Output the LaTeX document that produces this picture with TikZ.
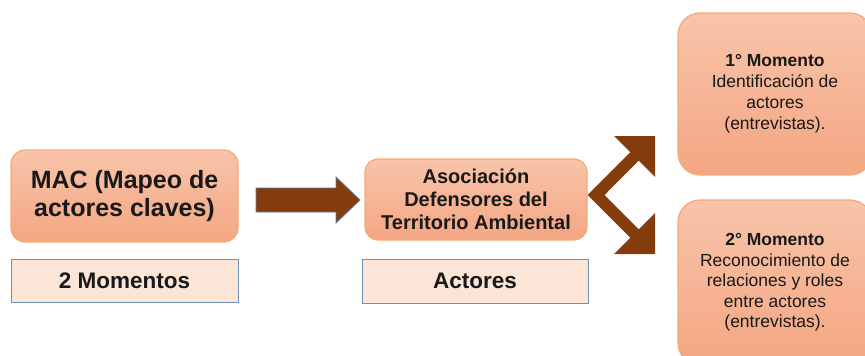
\documentclass[tikz,border=0pt]{standalone}
\usepackage{fontspec}
\setmainfont{Liberation Sans}
\definecolor{boxtop}{RGB}{248,196,170}
\definecolor{boxbot}{RGB}{244,166,130}
\definecolor{boxline}{RGB}{244,170,120}
\definecolor{labfill}{RGB}{251,229,214}
\definecolor{labline}{RGB}{110,145,185}
\definecolor{arrowbrown}{RGB}{132,60,12}
\definecolor{arrowline}{RGB}{90,125,170}
\tikzset{
  mainbox/.style={draw=boxline, line width=1.2pt, top color=boxtop, bottom color=boxbot,
    rounded corners=14pt, inner sep=0pt, align=center, text=black!90},
  labelbox/.style={draw=labline, line width=1pt, fill=labfill, inner sep=0pt, align=center,
    text=black!90, font=\fontsize{22.5}{26}\selectfont\bfseries},
  blockarrow/.style={fill=arrowbrown},
}
\begin{document}
\begin{tikzpicture}[x=1pt,y=-1pt]
\useasboundingbox (0,0) rectangle (865,356);
\clip (0,0) rectangle (865,356);
% left group
\node[mainbox, minimum width=227pt, minimum height=92pt,
  font=\fontsize{25}{28.5}\selectfont\bfseries] (mac) at (124.5,196) {MAC (Mapeo de\\actores claves)};
\node[labelbox, minimum width=227pt, minimum height=43pt] (mom2) at (124.5,280.5) {2 Momentos};
% middle group
\node[mainbox, rounded corners=13pt, minimum width=222pt, minimum height=81pt,
  font=\fontsize{20}{23}\selectfont\bfseries] (asoc) at (476,199.5) {Asociación\\Defensores del\\Territorio Ambiental};
\node[labelbox, minimum width=226pt, minimum height=44pt] (act) at (475,281) {Actores};
% right group
\node[mainbox, rounded corners=22pt, minimum width=194pt, minimum height=162pt,
  font=\fontsize{17.5}{21}\selectfont] (m1) at (775,94)
  {\textbf{1° Momento}\\Identificación de\\actores\\(entrevistas).};
\node[mainbox, rounded corners=22pt, minimum width=194pt, minimum height=165pt,
  font=\fontsize{17.5}{20.5}\selectfont] (m2) at (775,282.5)
  {\textbf{2° Momento}\\Reconocimiento de\\relaciones y roles\\entre actores\\(entrevistas).};
% main block arrow
\path[blockarrow, draw=arrowline, line width=0.8pt]
  (256,188) -- (336,188) -- (336,177) -- (360,200) -- (336,223) -- (336,212) -- (256,212) -- cycle;
% forked block arrow
\path[blockarrow]
  (587.5,195) -- (630.3,152.3) -- (614,136) -- (655,136) -- (655,177) -- (638.7,160.7)
  -- (604.5,195) -- (638.7,229.3) -- (655,213) -- (655,254) -- (614,254) -- (630.3,237.7) -- cycle;
\end{tikzpicture}
\end{document}
